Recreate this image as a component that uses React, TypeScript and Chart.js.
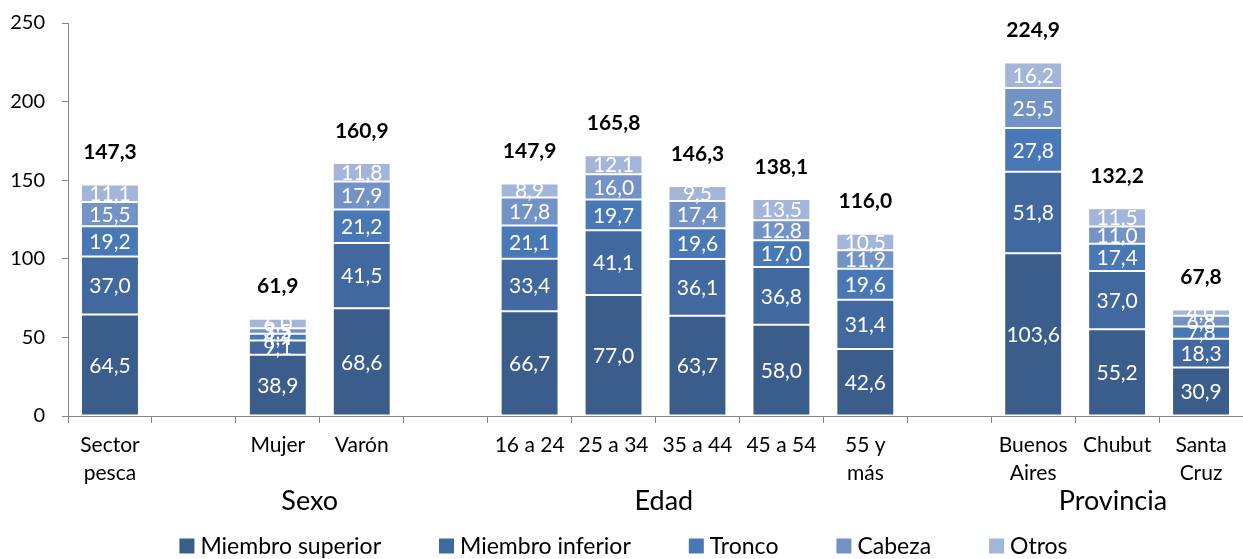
import React, { useEffect, useRef } from "react";
import { Chart, registerables } from "chart.js";

Chart.register(...registerables);

const categories: (string | string[])[] = [
  ["Sector", "pesca"], "", "Mujer", "Varón", "",
  "16 a 24", "25 a 34", "35 a 44", "45 a 54", ["55 y", "más"], "",
  ["Buenos", "Aires"], "Chubut", ["Santa", "Cruz"],
];

const miembroSuperior = [64.5, null, 38.9, 68.6, null, 66.7, 77.0, 63.7, 58.0, 42.6, null, 103.6, 55.2, 30.9];
const miembroInferior = [37.0, null, 9.1, 41.5, null, 33.4, 41.1, 36.1, 36.8, 31.4, null, 51.8, 37.0, 18.3];
const tronco = [19.2, null, 4.4, 21.2, null, 21.1, 19.7, 19.6, 17.0, 19.6, null, 27.8, 17.4, 7.8];
const cabeza = [15.5, null, 3.5, 17.9, null, 17.8, 16.0, 17.4, 12.8, 11.9, null, 25.5, 11.0, 6.8];
const otros = [11.1, null, 6.0, 11.8, null, 8.9, 12.1, 9.5, 13.5, 10.5, null, 16.2, 11.5, 4.0];
const totals = [147.3, null, 61.9, 160.9, null, 147.9, 165.8, 146.3, 138.1, 116.0, null, 224.9, 132.2, 67.8];

const seriesNames = ["Miembro superior", "Miembro inferior", "Tronco", "Cabeza", "Otros"];
const seriesColors = ["#3A5D8B", "#41699F", "#4878B6", "#7393C7", "#A3B6D9"];

const groupLabels = ["Sexo", "Edad", "Provincia"];
const groupCenters = [2.38, 6.6, 11.95];

const yTicks = [0, 50, 100, 150, 200, 250];

const FONT = "Lato";
const fmt = (v: number) => v.toFixed(1).replace(".", ",");

const labelsPlugin = {
  id: "labelsPlugin",
  afterDatasetsDraw(chart: any) {
    const ctx = chart.ctx;
    const yScale = chart.scales.y;
    const xScale = chart.scales.x;
    ctx.save();
    // segment labels
    ctx.font = `21px ${FONT}`;
    ctx.fillStyle = "#FFFFFF";
    ctx.textAlign = "center";
    ctx.textBaseline = "middle";
    chart.data.datasets.forEach((ds: any, di: number) => {
      const meta = chart.getDatasetMeta(di);
      meta.data.forEach((el: any, i: number) => {
        const v = ds.data[i];
        if (v == null) return;
        ctx.fillText(fmt(v), el.x, (el.y + el.base) / 2 + 1);
      });
    });
    // totals
    ctx.font = `bold 21px ${FONT}`;
    ctx.fillStyle = "#000000";
    totals.forEach((t, i) => {
      if (t == null) return;
      const x = xScale.getPixelForValue(i);
      const y = yScale.getPixelForValue(t) - 32;
      ctx.fillText(fmt(t), x, y);
    });
    // group labels
    ctx.font = `27px ${FONT}`;
    groupLabels.forEach((g, i) => {
      const x = xScale.getPixelForValue(groupCenters[i]);
      ctx.fillText(g, x, 501);
    });
    // legend
    ctx.font = `23px ${FONT}`;
    const box = 15;
    const gapBox = 6;
    const gapItem = 58;
    const widths = seriesNames.map((n) => box + gapBox + ctx.measureText(n).width);
    const total = widths.reduce((a, b) => a + b, 0) + gapItem * (widths.length - 1);
    let x = chart.width / 2 - total / 2 + 2;
    const ly = 546;
    ctx.textAlign = "left";
    seriesNames.forEach((n, i) => {
      ctx.fillStyle = seriesColors[i];
      ctx.fillRect(x, ly - box / 2, box, box);
      ctx.fillStyle = "#000000";
      ctx.fillText(n, x + box + gapBox, ly + 1);
      x += widths[i] + gapItem;
    });
    ctx.restore();
  },
};

export default function App() {
  const ref = useRef<HTMLCanvasElement>(null);
  useEffect(() => {
    if (!ref.current) return;
    const series = [miembroSuperior, miembroInferior, tronco, cabeza, otros];
    const chart = new Chart(ref.current, {
      type: "bar",
      data: {
        labels: categories as any,
        datasets: series.map((d, i) => ({
          label: seriesNames[i],
          data: d as any,
          backgroundColor: seriesColors[i],
          borderColor: "#FFFFFF",
          borderWidth: 1,
          borderSkipped: false,
          categoryPercentage: 1,
          barPercentage: 0.69,
        })),
      },
      options: {
        responsive: false,
        animation: false,
        layout: { padding: { top: 23, left: 0, right: -4, bottom: 0 } },
        plugins: { legend: { display: false }, tooltip: { enabled: false } },
        scales: {
          x: {
            stacked: true,
            grid: {
              display: true,
              drawOnChartArea: false,
              drawTicks: true,
              tickLength: 7,
              color: "#868686",
              offset: true,
            },
            border: { color: "#868686", width: 1 },
            ticks: {
              color: "#000000",
              font: { family: FONT, size: 21, lineHeight: 1.3 },
              padding: 9,
              maxRotation: 0,
              autoSkip: false,
            },
            afterFit: (s: any) => {
              s.height = 559 - 416;
            },
          },
          y: {
            stacked: true,
            min: 0,
            max: 250,
            afterBuildTicks: (s: any) => {
              s.ticks = yTicks.map((v) => ({ value: v }));
            },
            grid: {
              display: true,
              drawOnChartArea: false,
              drawTicks: true,
              tickLength: 6,
              color: "#868686",
            },
            border: { color: "#868686", width: 1 },
            ticks: {
              color: "#000000",
              font: { family: FONT, size: 20 },
              padding: 17,
            },
            afterFit: (s: any) => {
              s.width = 68;
              s.paddingTop = 0;
              s.paddingBottom = 0;
            },
          },
        },
      },
      plugins: [labelsPlugin],
    });
    return () => chart.destroy();
  }, []);
  return (
    <div style={{ position: "fixed", left: 0, top: 0, width: 1243, height: 559, background: "#FFFFFF" }}>
      <canvas ref={ref} width={1243} height={559} style={{ display: "block" }} />
    </div>
  );
}
